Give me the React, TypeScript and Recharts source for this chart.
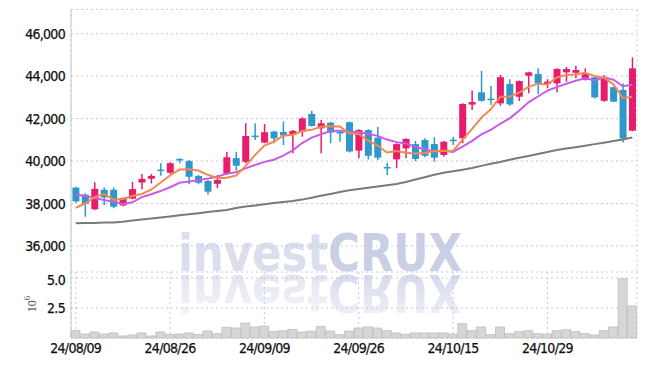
import React from 'react';
import { ComposedChart, BarChart, Bar, Line, XAxis, YAxis, CartesianGrid } from 'recharts';

const dates = [
  '24/08/09', '24/08/12', '24/08/13', '24/08/14', '24/08/16', '24/08/19', '24/08/20', '24/08/21', '24/08/22', '24/08/23',
  '24/08/26', '24/08/27', '24/08/28', '24/08/29', '24/08/30', '24/09/02', '24/09/03', '24/09/04', '24/09/05', '24/09/06',
  '24/09/09', '24/09/10', '24/09/11', '24/09/12', '24/09/13', '24/09/19', '24/09/20', '24/09/23', '24/09/24', '24/09/25',
  '24/09/26', '24/09/27', '24/09/30', '24/10/02', '24/10/04', '24/10/07', '24/10/08', '24/10/10', '24/10/11', '24/10/14',
  '24/10/15', '24/10/16', '24/10/17', '24/10/18', '24/10/21', '24/10/22', '24/10/23', '24/10/24', '24/10/25', '24/10/28',
  '24/10/29', '24/10/30', '24/10/31', '24/11/01', '24/11/04', '24/11/05', '24/11/06', '24/11/07', '24/11/08', '24/11/11',
];

const opens = [
  38750, 38420, 37730, 38650, 38650, 37910, 38230, 38990, 39170, 39600,
  39450, 40100, 40000, 39300, 39060, 38930, 39390, 40140, 39970, 41200,
  40870, 41390, 41370, 41230, 41390, 42220, 41540, 41810, 41370, 41830,
  40490, 41460, 41100, 39720, 40080, 40600, 40800, 40990, 40800, 40290,
  41010, 41070, 42660, 43240, 42940, 42720, 43630, 43030, 44020, 44100,
  43630, 43660, 44180, 44160, 43820, 43950, 42840, 43480, 43350, 41430,
];
const highs = [
  38790, 38470, 39000, 38760, 38760, 38290, 39020, 39390, 39390, 39900,
  39940, 40130, 40050, 39340, 39110, 39340, 40440, 40440, 41780, 41780,
  41750, 41430, 41860, 41460, 42060, 42370, 41930, 41840, 41430, 41870,
  41500, 41500, 41620, 39920, 40840, 41070, 40950, 41070, 41120, 40950,
  41150, 42720, 43320, 44260, 43540, 44050, 43850, 43790, 44210, 44370,
  43850, 44370, 44430, 44490, 44370, 43980, 44050, 43500, 43660, 44880,
];
const lows = [
  38040, 37380, 37700, 37930, 37780, 37870, 38200, 38670, 38940, 39310,
  39400, 39900, 38910, 38910, 38420, 38720, 39340, 39550, 39900, 40990,
  40840, 40840, 40760, 40370, 41150, 41630, 40370, 40840, 40910, 40400,
  40130, 40080, 40050, 39340, 39660, 40130, 40000, 40180, 39970, 40210,
  40760, 40840, 42410, 42800, 42640, 42610, 42610, 42830, 43190, 43150,
  43430, 43240, 43740, 43900, 43790, 42950, 42800, 42770, 40870, 41400,
];
const closes = [
  38100, 37980, 38690, 38290, 37850, 38260, 38680, 39160, 39300, 39570,
  39900, 40070, 39260, 38980, 38560, 39110, 40180, 39780, 41180, 41160,
  41360, 41070, 41210, 41420, 42010, 41650, 41780, 41340, 41340, 40450,
  41460, 40250, 40160, 39690, 40800, 41040, 40100, 40250, 40160, 40910,
  40980, 42690, 42780, 42840, 42910, 43950, 42670, 43770, 44180, 43660,
  43740, 44340, 44340, 44290, 44090, 43000, 43900, 42800, 41070, 44370,
];

// moving averages (5, 10, 60 days)
const ma5 = [
  37800, 38000, 38300, 38450, 38182, 38214, 38354, 38448, 38650, 38994,
  39322, 39600, 39620, 39556, 39354, 39196, 39218, 39322, 39762, 40282,
  40732, 40910, 41196, 41244, 41414, 41472, 41614, 41640, 41624, 41312,
  41274, 40968, 40732, 40402, 40472, 40388, 40358, 40376, 40470, 40492,
  40480, 40998, 41504, 42040, 42440, 43034, 43030, 43228, 43496, 43646,
  43604, 43938, 44052, 44074, 44160, 44012, 43924, 43616, 42972, 43028,
];
const ma10 = [
  38430, 38350, 38260, 38170, 38090, 37980, 38060, 38300, 38440, 38588,
  38768, 38977, 39034, 39103, 39174, 39259, 39409, 39471, 39659, 39818,
  39964, 40064, 40259, 40503, 40848, 41102, 41262, 41418, 41434, 41363,
  41373, 41291, 41186, 41013, 40892, 40831, 40663, 40554, 40436, 40482,
  40434, 40678, 40940, 41255, 41466, 41757, 42014, 42366, 42768, 43043,
  43319, 43484, 43640, 43785, 43903, 43808, 43931, 43834, 43523, 43594,
];
const ma60 = [
  37069, 37079, 37088, 37102, 37112, 37145, 37196, 37243, 37295, 37342,
  37394, 37446, 37493, 37545, 37597, 37649, 37696, 37790, 37856, 37912,
  37969, 38025, 38072, 38120, 38185, 38275, 38364, 38449, 38543, 38628,
  38685, 38741, 38802, 38864, 38920, 39014, 39132, 39240, 39354, 39452,
  39523, 39594, 39674, 39773, 39872, 39961, 40065, 40154, 40244, 40333,
  40427, 40517, 40588, 40653, 40724, 40799, 40865, 40941, 41021, 41106,
];

const volumes = [
  610000, 330000, 500000, 330000, 420000, 170000, 250000, 420000, 170000, 500000,
  300000, 330000, 420000, 300000, 580000, 360000, 890000, 830000, 1250000, 920000,
  1000000, 530000, 610000, 720000, 500000, 580000, 970000, 580000, 280000, 580000,
  830000, 920000, 830000, 610000, 420000, 310000, 420000, 420000, 420000, 420000,
  330000, 1190000, 610000, 920000, 280000, 920000, 360000, 530000, 610000, 360000,
  330000, 610000, 690000, 530000, 360000, 250000, 610000, 920000, 4940000, 2670000,
];

const priceTicks = [36000, 38000, 40000, 42000, 44000, 46000];
const volumeTicks = [2500000, 5000000];
const dateTicks = [dates[0], dates[10], dates[20], dates[30], dates[40], dates[50]];

const UP = '#e81c6c';
const DOWN = '#2f97c9';
const FONT = "'DejaVu Sans Condensed', 'DejaVu Sans', sans-serif";
const GRID = '#c4c7dc';
const FRAME = '#c8c8c8';

const priceData = dates.map((date, i) => ({
  date,
  open: opens[i],
  high: highs[i],
  low: lows[i],
  close: closes[i],
  ma5: ma5[i],
  ma10: ma10[i],
  ma60: ma60[i],
}));

const volumeData = dates.map((date, i) => ({ date, volume: volumes[i] }));

function Candle(props: any) {
  const { x, y, width, height, payload } = props;
  if (x == null || y == null || !payload) return null;
  const { open, close, high, low } = payload;
  const top = Math.min(y, y + height);
  const h = Math.abs(height);
  const ratio = h / (high - low || 1);
  const yOf = (v: number) => top + (high - v) * ratio;
  const color = close >= open ? UP : DOWN;
  const bodyTop = yOf(Math.max(open, close));
  const bodyH = Math.max(1.5, Math.abs(yOf(open) - yOf(close)));
  const cx = x + width / 2;
  return (
    <g>
      <line x1={cx} x2={cx} y1={top} y2={top + h} stroke={color} strokeWidth={1.5} />
      <rect x={x} y={bodyTop} width={width} height={bodyH} fill={color} />
    </g>
  );
}

function VolumeUnit(props: any) {
  const { viewBox } = props;
  if (!viewBox) return null;
  const cx = viewBox.x + 35.5;
  const cy = viewBox.y + 32;
  return (
    <text
      x={cx}
      y={cy}
      transform={`rotate(-90 ${cx} ${cy})`}
      textAnchor="middle"
      fontFamily="'Liberation Serif', 'DejaVu Serif', serif"
      fontSize={12}
      fill="#444"
    >
      10<tspan dy={-6} fontSize={9}>6</tspan>
    </text>
  );
}

function Watermark() {
  const text = (
    <text
      x={178}
      y={271}
      fontFamily="'DejaVu Sans', sans-serif"
      fontWeight="bold"
      fontSize={52}
      textLength={284}
      lengthAdjust="spacingAndGlyphs"
    >
      <tspan fill="#dadeed">invest</tspan>
      <tspan fill="#c9cfe5">CRUX</tspan>
    </text>
  );
  return (
    <svg width={645} height={366} style={{ position: 'absolute', left: 0, top: 0 }}>
      <defs>
        <linearGradient id="wmFade" x1="0" y1="0" x2="0" y2="1">
          <stop offset="0" stopColor="#fff" stopOpacity={0.8} />
          <stop offset="1" stopColor="#fff" stopOpacity={0.25} />
        </linearGradient>
        <mask id="wmMask">
          <rect x={0} y={273} width={645} height={46} fill="url(#wmFade)" />
        </mask>
      </defs>
      {text}
      <g mask="url(#wmMask)">
        <g transform="translate(0 546) scale(1 -1)">{text}</g>
      </g>
    </svg>
  );
}

export default function App() {
  const tickStyle = { fill: '#111', fontSize: 14, fontFamily: FONT, letterSpacing: -0.7, stroke: '#111', strokeWidth: 0.25 };
  return (
    <div style={{ position: 'relative', width: 645, height: 366, overflow: 'hidden', background: '#fff' }}>
      <style>{'body{margin:0;overflow:hidden}'}</style>
      <Watermark />

      {/* Price panel */}
      <div style={{ position: 'absolute', left: 0, top: 0 }}>
        <ComposedChart
          width={645}
          height={272}
          data={priceData}
          margin={{ top: 9.5, right: 8, bottom: 0, left: 0 }}
          barCategoryGap="15%"
        >
          <CartesianGrid stroke={GRID} strokeDasharray="2 3" />
          <XAxis
            dataKey="date"
            ticks={dateTicks}
            interval={0}
            tick={false}
            tickLine={false}
            height={0}
            axisLine={{ stroke: FRAME }}
          />
          <XAxis
            xAxisId="top"
            dataKey="date"
            orientation="top"
            tick={false}
            tickLine={false}
            height={0}
            axisLine={{ stroke: FRAME }}
          />
          <YAxis
            domain={[34775, 47140]}
            ticks={priceTicks}
            allowDataOverflow
            width={71}
            tickLine={false}
            tickSize={6}
            tickMargin={0}
            axisLine={{ stroke: FRAME }}
            tick={tickStyle}
            tickFormatter={(v: number) => v.toLocaleString('en-US')}
          />
          <YAxis
            yAxisId="right"
            orientation="right"
            width={0}
            tick={false}
            tickLine={false}
            axisLine={{ stroke: '#dcdcdc' }}
          />
          <Bar dataKey={(d: any) => [d.low, d.high]} shape={<Candle />} isAnimationActive={false} />
          <Line type="linear" dataKey="ma60" stroke="#7a7a7a" strokeWidth={2} dot={false} activeDot={false} isAnimationActive={false} />
          <Line type="linear" dataKey="ma10" stroke="#c95be6" strokeWidth={2} dot={false} activeDot={false} isAnimationActive={false} />
          <Line type="linear" dataKey="ma5" stroke="#f08a50" strokeWidth={2} dot={false} activeDot={false} isAnimationActive={false} />
        </ComposedChart>
      </div>

      {/* Volume panel */}
      <div style={{ position: 'absolute', left: 0, top: 272 }}>
        <BarChart
          width={645}
          height={94}
          data={volumeData}
          margin={{ top: 0, right: 8, bottom: 0, left: 0 }}
          barCategoryGap={0}
        >
          <CartesianGrid stroke={GRID} strokeDasharray="2 3" />
          <XAxis
            dataKey="date"
            ticks={dateTicks}
            interval={0}
            tickLine={false}
            axisLine={false}
            height={28}
            tickSize={4}
            tickMargin={1}
            tick={tickStyle}
          />
          <YAxis
            domain={[0, 5500000]}
            ticks={volumeTicks}
            width={71}
            tickLine={false}
            tickSize={6}
            tickMargin={0}
            axisLine={{ stroke: FRAME }}
            tick={tickStyle}
            tickFormatter={(v: number) => (v / 1e6).toFixed(1)}
            label={VolumeUnit}
          />
          <Bar dataKey="volume" fill="#d6d6d6" stroke="#bdbdbd" strokeWidth={0.8} isAnimationActive={false} />
        </BarChart>
      </div>
    </div>
  );
}
